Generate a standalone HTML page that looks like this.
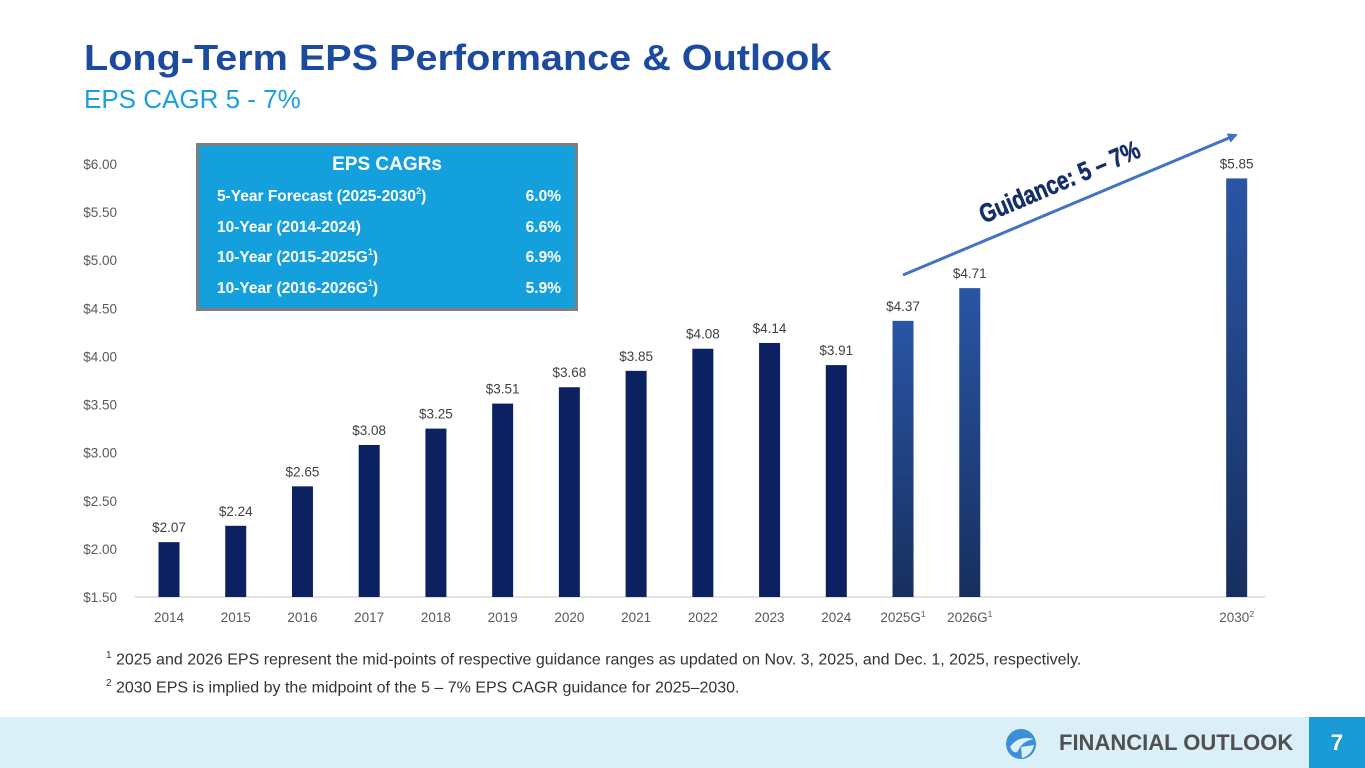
<!DOCTYPE html>
<html><head><meta charset="utf-8">
<style>
body{margin:0;width:1365px;height:768px;overflow:hidden;background:#fff;font-family:"Liberation Sans",Arial,sans-serif;position:relative}
.abs{position:absolute}
.box sup{font-size:9px;line-height:0;vertical-align:7px}
</style></head>
<body>
<div class="abs" style="left:84px;top:37px;font-size:36px;font-weight:bold;color:#1b4a9e;white-space:nowrap;transform:scaleX(1.1);transform-origin:0 0">Long-Term EPS Performance &amp; Outlook</div>
<div class="abs" style="left:84px;top:84px;font-size:26px;color:#1aa0dc;white-space:nowrap">EPS CAGR 5 - 7%</div>

<svg class="abs" style="left:0;top:0" width="1365" height="768">
<defs>
<linearGradient id="gf" x1="0" y1="0" x2="0" y2="1"><stop offset="0" stop-color="#2a55a5"/><stop offset="1" stop-color="#172f5e"/></linearGradient>
<marker id="ah" markerWidth="10" markerHeight="10" refX="8" refY="5" orient="auto" markerUnits="userSpaceOnUse"><path d="M0,0 L10,5 L0,10 z" fill="#4472c4"/></marker>
</defs>
<g id="axes"></g><g id="bars"></g>
<line x1="903" y1="275" x2="1236" y2="135" stroke="#4472c4" stroke-width="3" marker-end="url(#ah)"/>
<text x="1063" y="190" transform="rotate(-23 1063 190)" text-anchor="middle" font-size="26" font-weight="bold" fill="#162e6b" stroke="#162e6b" stroke-width="0.6" font-family="Liberation Sans, sans-serif" textLength="172" lengthAdjust="spacingAndGlyphs">Guidance: 5 – 7%</text>
</svg>

<div class="abs box" style="left:196px;top:143px;width:376px;height:162px;background:#13a0dc;border:3px solid #7f7f7f;color:#fff;font-weight:bold">
  <div style="text-align:center;font-size:19px;margin-top:7px;line-height:24px">EPS CAGRs</div>
  <div style="font-size:15.5px;line-height:30.5px;margin-top:5px;padding:0 14px 0 18px">
    <div style="display:flex;justify-content:space-between"><span>5-Year Forecast (2025-2030<sup>2</sup>)</span><span>6.0%</span></div>
    <div style="display:flex;justify-content:space-between"><span>10-Year (2014-2024)</span><span>6.6%</span></div>
    <div style="display:flex;justify-content:space-between"><span>10-Year (2015-2025G<sup>1</sup>)</span><span>6.9%</span></div>
    <div style="display:flex;justify-content:space-between"><span>10-Year (2016-2026G<sup>1</sup>)</span><span>5.9%</span></div>
  </div>
</div>

<div class="abs" style="left:106px;top:650px;font-size:16px;color:#333;white-space:nowrap"><sup style="font-size:10px">1</sup> 2025 and 2026 EPS represent the mid-points of respective guidance ranges as updated on Nov. 3, 2025, and Dec. 1, 2025, respectively.</div>
<div class="abs" style="left:106px;top:678px;font-size:16px;color:#333;white-space:nowrap"><sup style="font-size:10px">2</sup> 2030 EPS is implied by the midpoint of the 5 – 7% EPS CAGR guidance for 2025–2030.</div>

<div class="abs" style="left:0;top:717px;width:1365px;height:51px;background:#dbeff9"></div>
<svg class="abs" style="left:1004px;top:727px" width="34" height="34">
<circle cx="17" cy="17" r="15" fill="#3a8fd6"/><path d="M6,20 Q14,8 30,12 Q18,14 14,24 Q10,28 6,20z" fill="#dbeff9"/><path d="M17,20 L30,18 Q28,28 18,31z" fill="#dbeff9"/>
</svg>
<div class="abs" style="left:1059px;top:730px;font-size:22px;font-weight:bold;color:#505050;white-space:nowrap">FINANCIAL OUTLOOK</div>
<div class="abs" style="left:1309px;top:717px;width:56px;height:51px;background:#1a9ad6;color:#fff;font-size:22px;font-weight:bold;text-align:center;line-height:51px">7</div>

<script>
const categories=["2014","2015","2016","2017","2018","2019","2020","2021","2022","2023","2024","2025G","2026G","2030"];
const superscripts=["","","","","","","","","","","","1","1","2"];
const slots=[0,1,2,3,4,5,6,7,8,9,10,11,12,16];
const epsValues=[2.07,2.24,2.65,3.08,3.25,3.51,3.68,3.85,4.08,4.14,3.91,4.37,4.71,5.85];
const isGuidance=[false,false,false,false,false,false,false,false,false,false,false,true,true,true];
const yTicks=[1.5,2.0,2.5,3.0,3.5,4.0,4.5,5.0,5.5,6.0];
const NS="http://www.w3.org/2000/svg";
const y=v=>597-(v-1.5)*(433/4.5);
const x=s=>169+s*66.73;
const axes=document.getElementById('axes'),bars=document.getElementById('bars');
function mk(tag,at,parent,txt){const e=document.createElementNS(NS,tag);for(const k in at)e.setAttribute(k,at[k]);if(txt!==undefined)e.textContent=txt;parent.appendChild(e);return e;}
yTicks.forEach(t=>{
  const e=mk('text',{x:117,y:y(t)+5,'text-anchor':'end','font-size':13.5,fill:'#595959','font-family':'Liberation Sans, sans-serif'},axes,'$'+t.toFixed(2));
  
  
});
const base=mk('line',{x1:135,y1:597,x2:1265,y2:597,stroke:'#d9d9d9','stroke-width':1.5},axes);


categories.forEach((c,i)=>{
  const cx=x(slots[i]),top=y(epsValues[i]);
  const r=mk('rect',{x:cx-10.5,y:top,width:21,height:597-top,fill:isGuidance[i]?'url(#gf)':'#0c2161'},bars);
  
  
  const l=mk('text',{x:cx,y:top-10,'text-anchor':'middle','font-size':13.5,fill:'#404040','font-family':'Liberation Sans, sans-serif'},bars,'$'+epsValues[i].toFixed(2));
  
  
  const t=mk('text',{x:cx,y:622,'text-anchor':'middle','font-size':13.5,fill:'#595959','font-family':'Liberation Sans, sans-serif'},axes,c);
  if(superscripts[i]){mk('tspan',{dy:-5,'font-size':8.5},t,superscripts[i]);}
  
  
});
</script>
</body></html>
